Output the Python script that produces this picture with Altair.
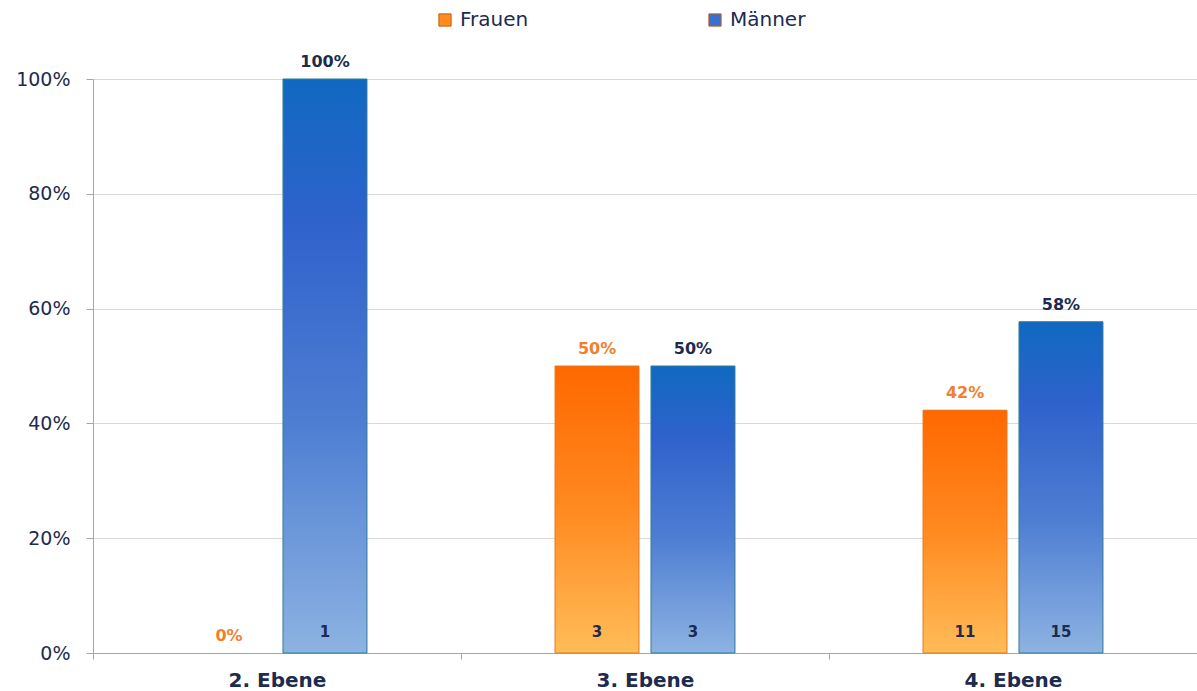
import altair as alt
import pandas as pd

ebenen = ["2. Ebene", "3. Ebene", "4. Ebene"]
frauen_anteil = [0.0, 0.5, 0.423]
maenner_anteil = [1.0, 0.5, 0.577]
frauen_anzahl = [0, 3, 11]
maenner_anzahl = [1, 3, 15]
geschlechter = ["Frauen", "Männer"]

rows = []
for i, e in enumerate(ebenen):
    rows.append({"Ebene": e, "Geschlecht": "Frauen", "Anteil": frauen_anteil[i], "Anzahl": frauen_anzahl[i]})
    rows.append({"Ebene": e, "Geschlecht": "Männer", "Anteil": maenner_anteil[i], "Anzahl": maenner_anzahl[i]})
df = pd.DataFrame(rows)

NAVY = "#1C2B4E"
ORANGE_TXT = "#F07F2E"
FONT = "DejaVu Sans"

x_enc = alt.X("Ebene:N", sort=ebenen,
              scale=alt.Scale(paddingInner=0, paddingOuter=0),
              axis=alt.Axis(title=None, labelFont=FONT, labelFontSize=20, labelFontWeight="bold",
                            labelColor=NAVY, tickBand="extent", tickSize=6, tickColor="#A6A6A6",
                            domainColor="#A6A6A6", labelPadding=11, grid=False, labelAngle=0))
xo_enc = alt.XOffset("Geschlecht:N", sort=geschlechter,
                     scale=alt.Scale(paddingInner=0.125, paddingOuter=0.98))
y_enc = alt.Y("Anteil:Q", scale=alt.Scale(domain=[0, 1], nice=False),
              axis=alt.Axis(title=None, format=".0%", values=[0, 0.2, 0.4, 0.6, 0.8, 1.0],
                            labelFont=FONT, labelFontSize=19, labelColor=NAVY, tickSize=7,
                            tickColor="#A6A6A6", domainColor="#A6A6A6", labelPadding=16,
                            gridColor="#D9D9D9", gridWidth=1))

base = alt.Chart(df)
bars_data = base.transform_filter(alt.datum.Anteil > 0)

legend_bars = bars_data.mark_bar().encode(
    x=x_enc, xOffset=xo_enc, y=y_enc,
    color=alt.Color("Geschlecht:N", sort=geschlechter,
                    scale=alt.Scale(domain=geschlechter, range=["#FF8A1E", "#3A6FCF"]),
                    legend=alt.Legend(title=None, orient="none", direction="horizontal",
                                      legendX=342, legendY=-69, symbolType="square", symbolSize=150,
                                      symbolStrokeColor="#C06010", symbolStrokeWidth=1,
                                      labelFont=FONT, labelFontSize=20, labelColor=NAVY,
                                      labelOffset=5, columnPadding=176)),
)

orange_grad = alt.Gradient(gradient="linear", x1=0, y1=0, x2=0, y2=1, stops=[
    alt.GradientStop(color="#FF6800", offset=0),
    alt.GradientStop(color="#FF8A20", offset=0.5),
    alt.GradientStop(color="#FFBC58", offset=1),
])
blue_grad = alt.Gradient(gradient="linear", x1=0, y1=0, x2=0, y2=1, stops=[
    alt.GradientStop(color="#1069C0", offset=0),
    alt.GradientStop(color="#2F62CC", offset=0.25),
    alt.GradientStop(color="#4E7ED2", offset=0.6),
    alt.GradientStop(color="#8DB3E2", offset=1),
])

f_bars = bars_data.transform_filter(alt.datum.Geschlecht == "Frauen").mark_bar(
    fill=orange_grad, stroke="#E8781E", strokeWidth=1).encode(x=x_enc, xOffset=xo_enc, y=y_enc)
m_bars = bars_data.transform_filter(alt.datum.Geschlecht == "Männer").mark_bar(
    fill=blue_grad, stroke="#2E7E96", strokeWidth=1).encode(x=x_enc, xOffset=xo_enc, y=y_enc)

pct_labels = base.mark_text(font=FONT, fontSize=16, fontWeight="bold", baseline="bottom", dy=-9).encode(
    x=x_enc, xOffset=xo_enc, y=y_enc,
    text=alt.Text("Anteil:Q", format=".0%"),
    color=alt.Color("Geschlecht:N", scale=alt.Scale(domain=geschlechter, range=[ORANGE_TXT, NAVY]), legend=None),
)

count_labels = base.transform_filter(alt.datum.Anzahl > 0).mark_text(
    font=FONT, fontSize=15, fontWeight="bold", baseline="middle", dy=-21, color=NAVY).encode(
    x=x_enc, xOffset=xo_enc, y=alt.datum(0),
    text=alt.Text("Anzahl:Q"),
)

chart = alt.layer(legend_bars, f_bars, m_bars, pct_labels, count_labels).resolve_scale(
    color="independent"
).properties(
    width=1104, height=574,
    autosize=alt.AutoSizeParams(type="none"),
    padding={"left": 93, "top": 79, "right": 0, "bottom": 38},
).configure_view(stroke=None).configure(background="white")

chart.save("out.html", embed_options={"renderer": "svg", "actions": False})
